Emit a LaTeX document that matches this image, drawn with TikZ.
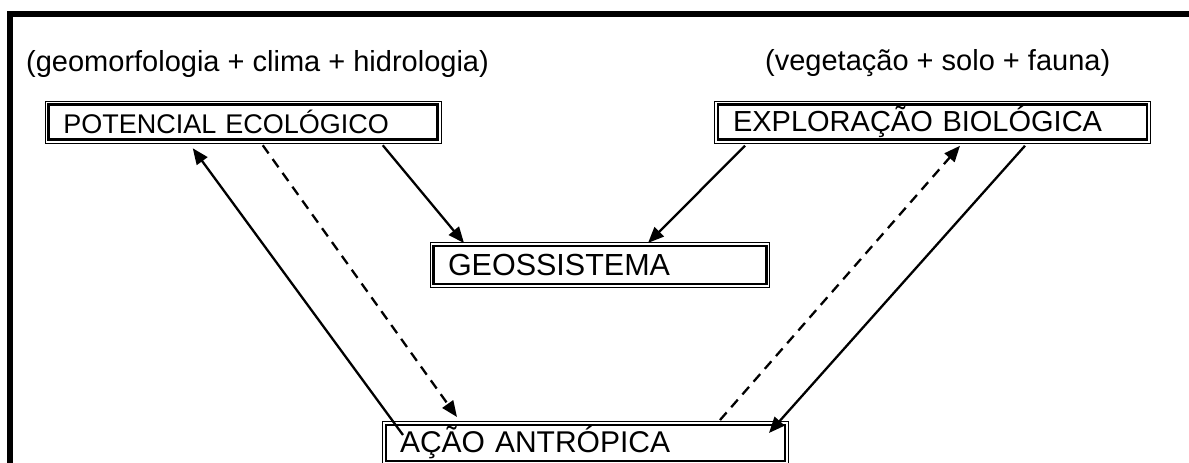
\documentclass[tikz,border=0pt]{standalone}
\usepackage{fontspec}
\setmainfont{Liberation Sans}
\usepackage{tikz}
\usetikzlibrary {arrows.meta}
\pgfmathsetmacro{\fs}{29}
\tikzset{
	caixa/.style = {draw, line width = 2.8pt, outer sep = 0pt, inner ysep = 0pt, align = left, anchor = center},
	rotulo/.style = {inner sep = 0pt, anchor = base west, font = \fontsize{\fs}{34}\selectfont},
	seta/.style = {line width = 2.3pt, arrows = {-Triangle[length=16pt, width=13pt]}},
	tracejada/.style = {seta, dash pattern = on 10pt off 7pt}
}

\begin{document}
\begin{tikzpicture}[x = 1pt, y = -1pt]
		\useasboundingbox (0, 0) rectangle (1189, 463);
		\draw[line width = 6pt] (10, 463) -- (10, 14) -- (1189, 14);
		\node[rotulo] (geo-txt) at (26, 71) {(geomorfologia + clima + hidrologia)};
		\node[rotulo] (veg-txt) at (765, 70) {(vegetação + solo + fauna)};
		\node[caixa, minimum height = 35.5pt, inner xsep = 15pt, text width = 359.5pt, font = \fontsize{27}{30}\selectfont] (pot) at (243, 122) {POTENCIAL ECOLÓGICO};
		\node[caixa, minimum height = 35.5pt, inner xsep = 15pt, text width = 399pt, font = \fontsize{29}{32}\selectfont] (exp) at (932.5, 122) {EXPLORAÇÃO BIOLÓGICA};
		\node[caixa, minimum height = 38pt, inner xsep = 14.5pt, text width = 304pt, font = \fontsize{30.5}{33}\selectfont] (geo) at (600, 265) {GEOSSISTEMA};
		\node[caixa, minimum height = 36pt, inner xsep = 14pt, text width = 371pt, font = \fontsize{30}{33}\selectfont] (act) at (585.5, 443) {AÇÃO ANTRÓPICA};
		\foreach \n in {pot, exp, geo, act}
			\draw[line width = .9pt] ([shift={(-3.2pt,-3.2pt)}]\n.south west) rectangle ([shift={(3.2pt,3.2pt)}]\n.north east);
		\draw[seta] ([shift={(17,-8)}]act.west) -- ([shift={(144.5,8.5)}]pot.south west);
		\draw[tracejada] ([shift={(214.5,5.5)}]pot.south west) -- ([shift={(71,-8)}]act.north west);
		\draw[seta] ([shift={(334.5,5.5)}]pot.south west) -- ([shift={(30.5,-3)}]geo.north west);
		\draw[seta] ([shift={(27,6)}]exp.south west) -- ([shift={(214.5,-3)}]geo.north west);
		\draw[tracejada] ([shift={(334,-5)}]act.north west) -- ([shift={(242,6)}]exp.south west);
		\draw[seta] ([shift={(307,6)}]exp.south west) -- ([shift={(383,8)}]act.north west);
	\end{tikzpicture}
\end{document}
